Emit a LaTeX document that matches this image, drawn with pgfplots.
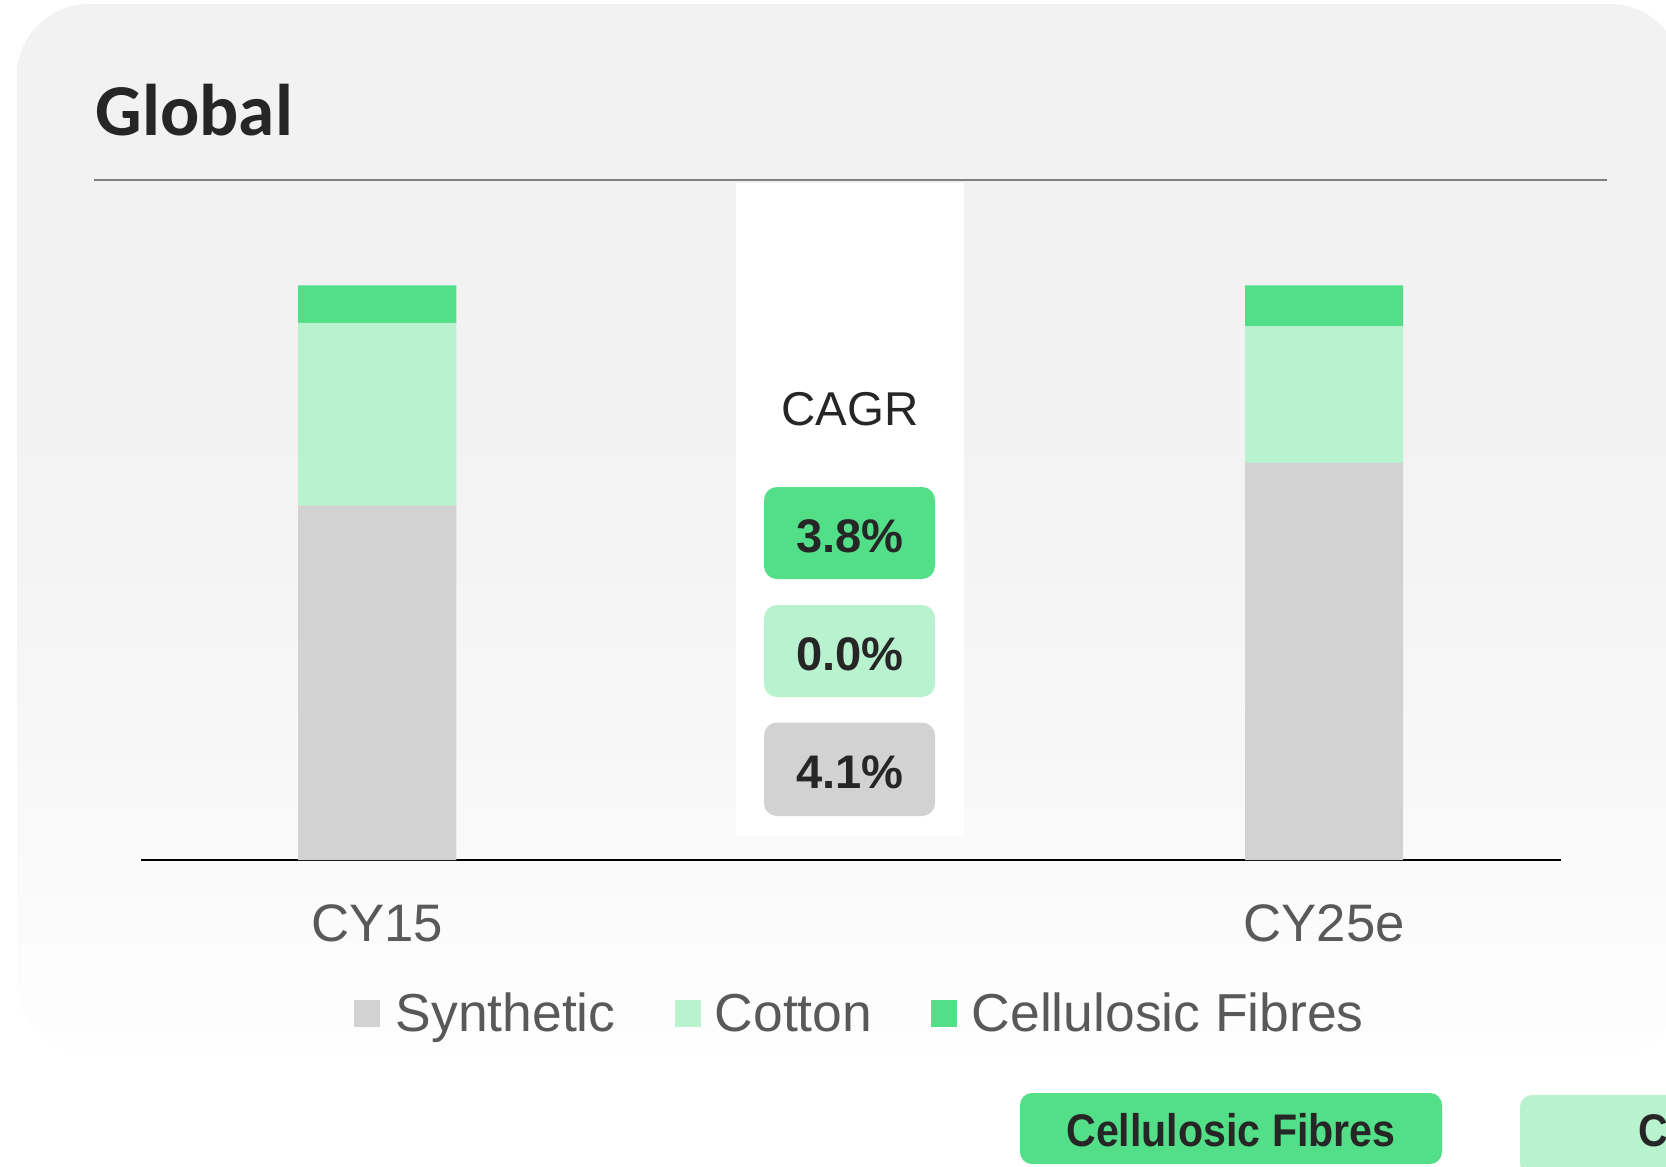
\documentclass[border=0pt]{standalone}
\usepackage{pgfplots}
\pgfplotsset{compat=1.18}
\usepackage{pgfplotstable}
\usepackage{fontspec}
\setmainfont{Liberation Sans}
\newfontfamily\carlito{Carlito}
\newfontfamily\narrowfont[FakeStretch=0.9]{Liberation Sans}
\definecolor{cellg}{HTML}{52DF87}
\definecolor{cottong}{HTML}{B9F2CE}
\definecolor{synthg}{HTML}{D2D2D2}
\definecolor{darktxt}{HTML}{262626}
\definecolor{graytxt}{HTML}{595959}
\definecolor{rulegray}{HTML}{808080}
\definecolor{bgtop}{HTML}{F2F2F2}
\definecolor{bgmid}{HTML}{F7F7F7}
\definecolor{bgbot}{HTML}{FEFEFE}
\pgfdeclareverticalshading{bgfade}{100bp}{color(0bp)=(bgbot); color(25bp)=(bgbot); color(40bp)=(bgmid); color(55bp)=(bgtop); color(75bp)=(bgtop); color(100bp)=(bgtop)}

\pgfplotstableread{
x synth cotton cell
0 61.7 31.8 6.5
1 69.1 23.8 7.1
}\mixdata

\begin{document}
\begin{tikzpicture}
\begin{scope}[x=0.01cm,y=-0.01cm]
  \useasboundingbox (0,0) rectangle (1666,1166);
  \clip (0,0) rectangle (1666,1166);
  \fill[white] (0,0) rectangle (1666,1166);
  \shade[shading=bgfade, rounded corners=0.72cm] (17,4) rectangle (1682,1054);
  \node[anchor=base west, inner sep=0, text=darktxt, font=\carlito\bfseries\fontsize{20.8}{25}\selectfont] at (95,135) {Global};
  \draw[rulegray, line width=0.75pt] (93.5,180) -- (1606.5,180);
  % CAGR column
  \fill[white] (736,183) rectangle (964,836);
  \node[anchor=base, inner sep=0, text=darktxt, font=\fontsize{13.5}{16}\selectfont] at (850,425) {CAGR};
  \fill[cellg, rounded corners=0.13cm] (764,487) rectangle (935,579);
  \fill[cottong, rounded corners=0.13cm] (764,605) rectangle (935,697);
  \fill[synthg, rounded corners=0.13cm] (764,722.5) rectangle (935,816);
  \node[anchor=base, inner sep=0, text=darktxt, font=\bfseries\fontsize{13.4}{16}\selectfont] at (850,552.5) {3.8\%};
  \node[anchor=base, inner sep=0, text=darktxt, font=\bfseries\fontsize{13.4}{16}\selectfont] at (850,670.4) {0.0\%};
  \node[anchor=base, inner sep=0, text=darktxt, font=\bfseries\fontsize{13.4}{16}\selectfont] at (850,788.4) {4.1\%};
\end{scope}

\begin{axis}[
  at={(1.41cm,-8.596cm)}, anchor=south west,
  scale only axis, width=14.19cm, height=5.743cm,
  xmin=-0.2494, xmax=1.2501, ymin=0, ymax=100,
  ybar stacked, bar width=0.167,
  axis x line*=bottom, axis y line=none,
  x axis line style={black, line width=0.6pt},
  xtick={0,1}, xticklabels={CY15,CY25e},
  major tick length=0pt,
  xticklabel style={anchor=base, yshift=-0.814cm, text=graytxt, font=\fontsize{15}{18}\selectfont},
  ytick=\empty,
  clip=false,
]
\addplot[fill=synthg, draw=none] table[x=x, y=synth] {\mixdata};
\addplot[fill=cottong, draw=none] table[x=x, y=cotton] {\mixdata};
\addplot[fill=cellg, draw=none] table[x=x, y=cell] {\mixdata};
\end{axis}

\begin{scope}[x=0.01cm,y=-0.01cm]
  \clip (0,0) rectangle (1666,1166);
  % legend
  \fill[synthg] (354,1000) rectangle (380,1027);
  \node[anchor=base west, inner sep=0, text=graytxt, font=\fontsize{15.2}{18}\selectfont] at (395,1031) {Synthetic};
  \fill[cottong] (675,1000) rectangle (701,1027);
  \node[anchor=base west, inner sep=0, text=graytxt, font=\fontsize{15.2}{18}\selectfont] at (714,1031) {Cotton};
  \fill[cellg] (931,1000) rectangle (957,1027);
  \node[anchor=base west, inner sep=0, text=graytxt, font=\fontsize{15.2}{18}\selectfont] at (971,1031) {Cellulosic Fibres};
  % bottom buttons
  \fill[cellg, rounded corners=0.12cm] (1020,1093) rectangle (1442,1164);
  \node[anchor=base, inner sep=0, text=darktxt, font=\narrowfont\bfseries\fontsize{13}{15}\selectfont] at (1231,1146) {Cellulosic Fibres};
  \fill[cottong, rounded corners=0.12cm] (1520,1095) rectangle (1800,1175);
  \node[anchor=base west, inner sep=0, text=darktxt, font=\narrowfont\bfseries\fontsize{13}{15}\selectfont] at (1638,1146) {C};
\end{scope}
\end{tikzpicture}
\end{document}
